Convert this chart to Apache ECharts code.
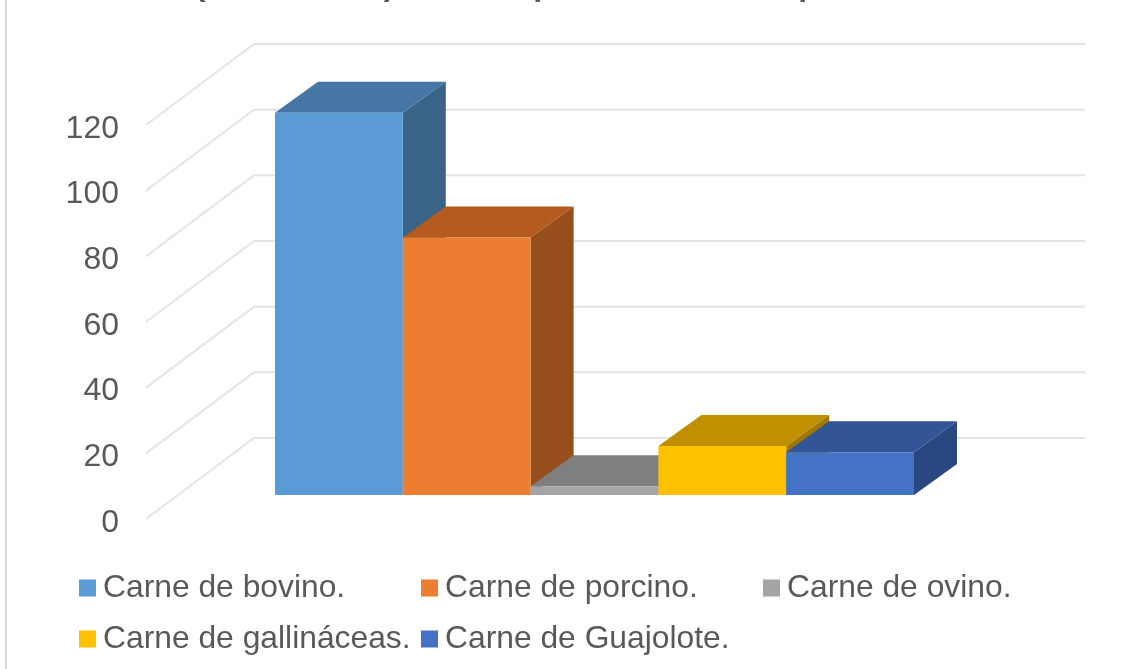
<!DOCTYPE html>
<html>
<head>
<meta charset="utf-8">
<style>html,body{margin:0;padding:0;background:#fff}#c{width:1146px;height:669px}</style>
<script src="https://cdn.jsdelivr.net/npm/echarts@6/dist/echarts.min.js"></script>
</head>
<body>
<div id="c"></div>
<script>
const seriesNames = ['Carne de bovino.', 'Carne de porcino.', 'Carne de ovino.', 'Carne de gallináceas.', 'Carne de Guajolote.'];
const seriesValues = [116.4, 78.4, 2.7, 14.9, 13];
const frontColors = ['#5B9BD5', '#ED7D31', '#A5A5A5', '#FFC000', '#4472C4'];
const topColors = ['#4676A4', '#B55B20', '#7F7F7F', '#C19000', '#325597'];
const sideColors = ['#3A6487', '#964E1C', '#6A6A6A', '#A07800', '#294780'];
const yTicks = [0, 20, 40, 60, 80, 100, 120];
const clippedTitleBits = ['(', ')', 'p', 'p', ','];
const category = ['Carne'];

const wallDx = 108, wallDy = 81, wallRight = 1085;
const barFrontDx = 33, barFrontDy = 24, barDx = 43, barDy = 31, barShare = 127.8 / 831;

const chart = echarts.init(document.getElementById('c'), null, {renderer: 'canvas'});

const wallSeries = {
  type: 'custom',
  name: 'wall',
  silent: true,
  z: 1,
  data: yTicks.map(t => [0, t]),
  renderItem(params, api) {
    const p = api.coord([0, api.value(1)]);
    const left = params.coordSys.x;
    return {
      type: 'polyline',
      shape: {points: [[left, p[1]], [left + wallDx, p[1] - wallDy], [wallRight, p[1] - wallDy]]},
      style: {fill: null, stroke: '#E4E4E4', lineWidth: 2}
    };
  }
};

const barSeries = seriesNames.map((name, i) => ({
  type: 'custom',
  name,
  z: 2 + i,
  itemStyle: {color: frontColors[i]},
  data: [[0, seriesValues[i]]],
  renderItem(params, api) {
    const top = api.coord([0, api.value(1)]);
    const base = api.coord([0, 0]);
    const w = api.size([1, 0])[0] * barShare;
    const x0 = top[0] + (i - seriesNames.length / 2) * w + barFrontDx;
    const x1 = x0 + w;
    const yt = top[1] - barFrontDy;
    const yb = base[1] - barFrontDy;
    return {
      type: 'group',
      children: [
        {type: 'polygon', shape: {points: [[x1, yt], [x1 + barDx, yt - barDy], [x1 + barDx, yb - barDy], [x1, yb]]}, style: {fill: sideColors[i]}},
        {type: 'polygon', shape: {points: [[x0, yt], [x0 + barDx, yt - barDy], [x1 + barDx, yt - barDy], [x1, yt]]}, style: {fill: topColors[i]}},
        {type: 'rect', shape: {x: x0, y: yt, width: w, height: yb - yt}, style: {fill: frontColors[i]}}
      ]
    };
  }
}));

const legendBase = {
  orient: 'vertical',
  icon: 'rect',
  padding: 0,
  itemWidth: 17,
  itemHeight: 17,
  itemGap: 19,
  top: 572,
  selectedMode: false,
  textStyle: {fontFamily: 'Liberation Sans', fontSize: 31.8, color: '#595959', padding: [2, 0, 0, 2]}
};

const bitX = [200, 389, 543, 808, 873];

chart.setOption({
  animation: false,
  backgroundColor: '#fff',
  grid: {left: 146, top: 125, width: 831, height: 394, containLabel: false},
  xAxis: {type: 'category', data: category, show: false},
  yAxis: {
    type: 'value', min: 0, max: 120, interval: 20,
    axisLine: {show: false}, axisTick: {show: false}, splitLine: {show: false},
    axisLabel: {margin: 27, fontFamily: 'Liberation Sans', fontSize: 32, color: '#595959', verticalAlign: 'top', lineHeight: 8}
  },
  legend: [
    Object.assign({}, legendBase, {left: 79, data: [seriesNames[0], seriesNames[3]]}),
    Object.assign({}, legendBase, {left: 421, data: [seriesNames[1], seriesNames[4]]}),
    Object.assign({}, legendBase, {left: 763, data: [seriesNames[2]]})
  ],
  graphic: [
    {type: 'rect', silent: true, shape: {x: 5, y: 0, width: 2, height: 669}, style: {fill: '#D9D9D9'}}
  ].concat(clippedTitleBits.map((t, i) => ({
    type: 'text', silent: true, x: bitX[i], y: -14,
    style: {text: t, fontFamily: 'Liberation Sans', fontWeight: 'bold', fontSize: 32, fill: '#595959', textAlign: 'center', textVerticalAlign: 'middle'}
  }))),
  series: [wallSeries].concat(barSeries)
});
</script>
</body>
</html>
